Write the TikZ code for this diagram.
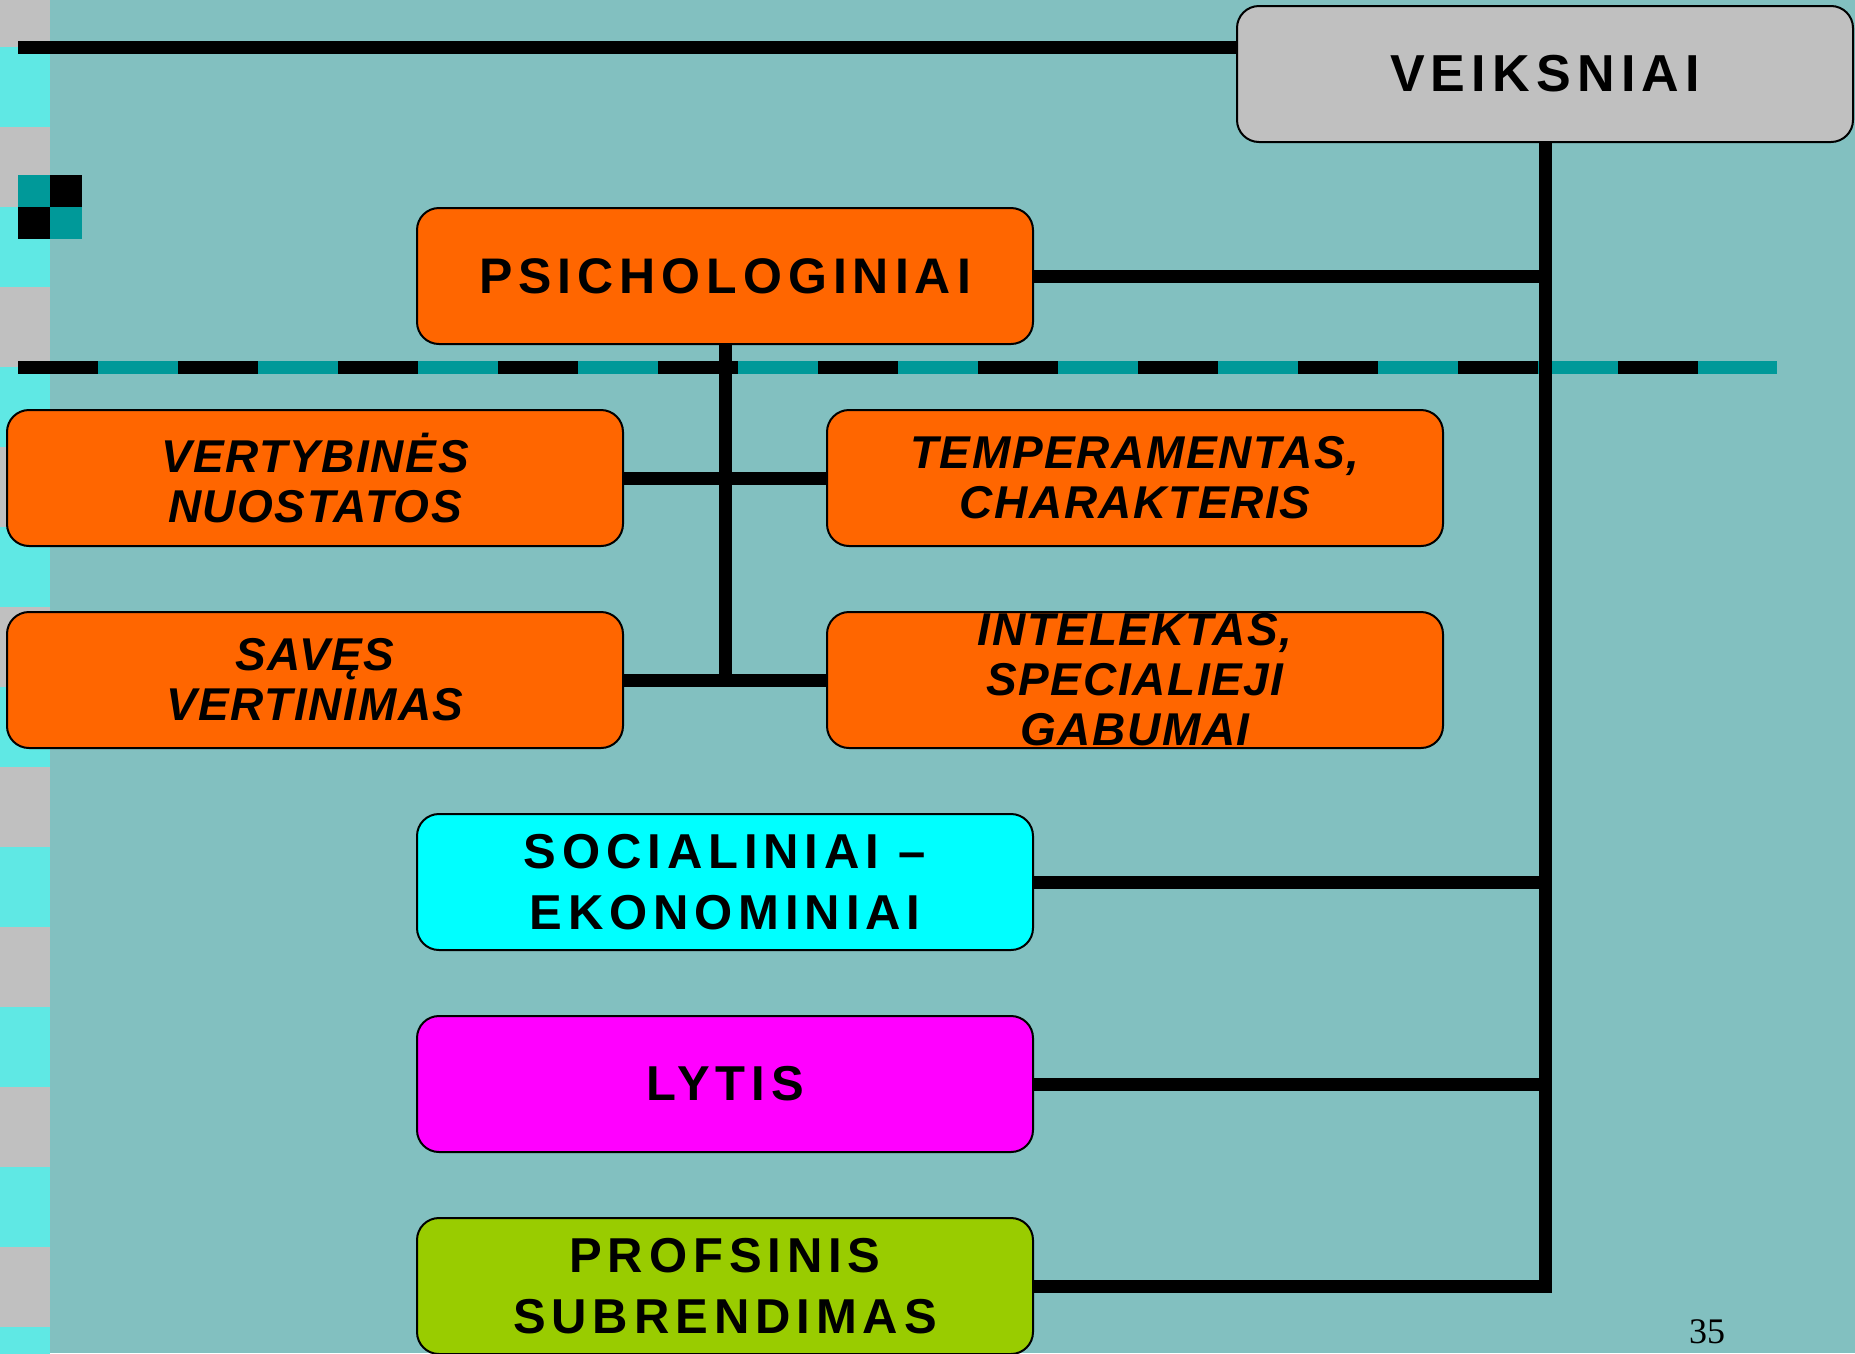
\documentclass[tikz,border=0pt]{standalone}
\usepackage{fontspec}
\setmainfont{Liberation Sans}
\newfontfamily\spacedfont[LetterSpace=12]{Liberation Sans}
\newfontfamily\subfont[LetterSpace=3.5]{Liberation Sans}
\newfontfamily\pagenumfont{Liberation Serif}
\usepackage{tikz}
\usetikzlibrary{positioning}
\definecolor{slidebg}{RGB}{130,192,192}
\definecolor{stripgrey}{RGB}{192,192,192}
\definecolor{stripcyan}{RGB}{95,232,228}
\definecolor{markteal}{RGB}{0,153,153}
\definecolor{factorange}{RGB}{255,102,0}
\definecolor{factcyan}{RGB}{0,255,255}
\definecolor{factmagenta}{RGB}{255,0,255}
\definecolor{factgreen}{RGB}{153,204,0}
\tikzset{
		factor/.style={draw=black, line width=2pt, rounded corners=22pt, minimum width=616pt, minimum height=136pt, inner sep=0pt, align=center},
		main factor/.style={factor, font=\spacedfont\bfseries\fontsize{#1}{61}\selectfont},
		main factor/.default=49,
		sub factor/.style={factor, fill=factorange, font=\subfont\bfseries\itshape\fontsize{46}{50}\selectfont},
		branch/.style={line width=13pt}
	}

\begin{document}
\begin{tikzpicture}[x=1pt,y=-1pt]
				\useasboundingbox (0,0) rectangle (1855,1353);
				\fill[slidebg] (0,0) rectangle (1855,1353);
				\fill[stripgrey] (0,0) rectangle (50,1353);
				\foreach \y in {47,207,...,1327}
					\fill[stripcyan] (0,\y) rectangle (50,{\y+80});
				\fill[markteal] (18,175) rectangle (50,207);
				\fill[black] (50,175) rectangle (82,207);
				\fill[black] (18,207) rectangle (50,239);
				\fill[markteal] (50,207) rectangle (82,239);

				\coordinate (topstart) at (18,47);
				\coordinate (sepstart) at (18,367);
				\coordinate (sepend)   at (1777,367);
				\draw[branch, markteal] (sepstart) -- (sepend);
				\draw[branch, dash pattern=on 80pt off 80pt] (sepstart) -- (sepend);

				\node[main factor=52, fill=stripgrey] (veik)  at (1545,74)  {VEIKSNIAI};
				\node[main factor=50, fill=factorange] (psich) at (725,276)  {PSICHOLOGINIAI};
				\node[sub factor]                   (vert)  at (315,478)  {VERTYBINĖS\\NUOSTATOS};
				\node[sub factor]                   (temp)  at (1135,478) {TEMPERAMENTAS,\\CHARAKTERIS};
				\node[sub factor]                   (saves) at (315,680)  {SAVĘS\\VERTINIMAS};
				\node[sub factor]                   (intel) at (1135,680) {INTELEKTAS,\\SPECIALIEJI\\GABUMAI};
				\node[main factor, fill=factcyan]    (soc)   at (725,882)  {SOCIALINIAI –\\EKONOMINIAI};
				\node[main factor, fill=factmagenta] (lyt)   at (725,1084) {LYTIS};
				\node[main factor, fill=factgreen]   (prof)  at (725,1286) {PROFSINIS\\SUBRENDIMAS};
				\node[font=\pagenumfont\fontsize{36}{36}\selectfont, anchor=base, inner sep=0pt] (pagenum) at (1707,1343) {35};

				\draw[branch] (topstart) -- (topstart -| veik.west);
				\draw[branch] (veik.south) -- (veik.south |- prof.east) -- (prof.east);
				\foreach \n in {psich, soc, lyt}
					\draw[branch] (\n.east) -- (\n.east -| veik.south);
				\draw[branch] (psich.south) -- (psich.south |- saves.east);
				\draw[branch] (vert.east) -- (temp.west);
				\draw[branch] (saves.east) -- (intel.west);
			\end{tikzpicture}
\end{document}
